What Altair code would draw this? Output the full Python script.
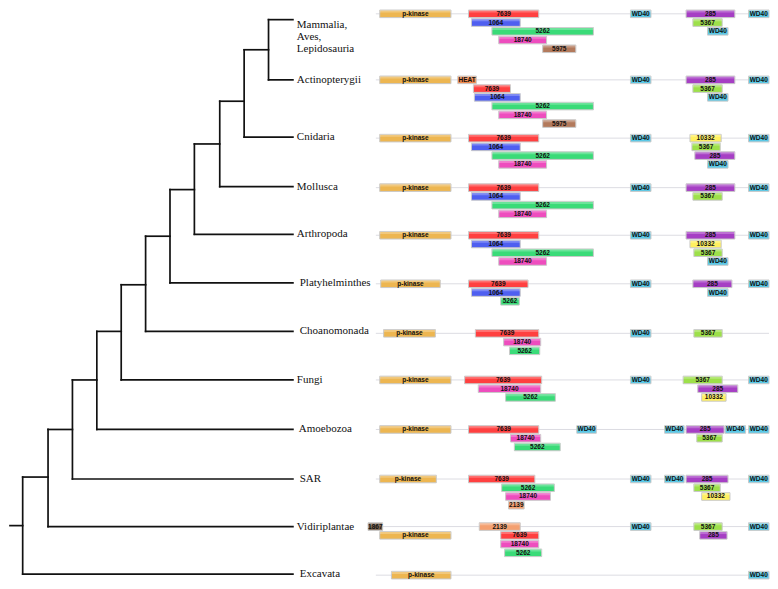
import altair as alt
import pandas as pd

# ---------------- Tree (cladogram) ----------------
# node name, horizontal position (depth), vertical position, parent
node_names = ["Mammalia", "Actinopterygii", "N1", "Cnidaria", "N2", "Mollusca", "N3",
              "Arthropoda", "N4", "Platyhelminthes", "N5", "Choanomonada", "N6",
              "Fungi", "N7", "Amoebozoa", "N8", "SAR", "N9", "Vidiriplantae", "N10",
              "Excavata", "N11", "root"]
node_x = [290, 290, 265, 290, 240, 290, 215, 290, 189, 290, 164, 290, 139,
          290, 114, 290, 89, 290, 64, 290, 39, 290, 13, 0]
node_y = [12, 74, 43, 133, 96, 184, 140, 233, 187, 283, 235, 333, 285,
          383, 333, 434, 383, 485, 434, 534, 483, 583, 533, 533]
node_parent = ["N1", "N1", "N2", "N2", "N3", "N3", "N4", "N4", "N5", "N5", "N6", "N6", "N7",
               "N7", "N8", "N8", "N9", "N9", "N10", "N10", "N11", "N11", "root", ""]

# ---------------- Taxa ----------------
taxa = ["Mammalia,\nAves,\nLepidosauria", "Actinopterygii", "Cnidaria", "Mollusca",
        "Arthropoda", "Platyhelminthes", "Choanomonada", "Fungi", "Amoebozoa",
        "SAR", "Vidiriplantae", "Excavata"]
taxon_label_x = [294, 294, 294, 294, 294, 297, 297, 294, 296, 297, 294, 297]
taxon_label_y = [17, 74, 133, 184, 233, 283, 333, 383, 434, 485, 534, 583]
row_y = [6, 74, 134, 185, 234, 284, 335, 383, 434, 485, 534, 584]
backbone_start = 375
backbone_end = 778

# ---------------- Domain architectures: (domain, start, end, track) ----------------
arch = [
    [("p-kinase", 379, 452, 0), ("7639", 470, 542, 0), ("1064", 473, 523, 1), ("5262", 494, 598, 2),
     ("18740", 501, 550, 3), ("5975", 546, 580, 4), ("WD40", 636, 657, 0), ("285", 693, 743, 0),
     ("5367", 700, 730, 1), ("WD40", 715, 736, 2), ("WD40", 757, 778, 0)],
    [("p-kinase", 379, 452, 0), ("HEAT", 459, 478, 0), ("7639", 475, 513, 1), ("1064", 476, 523, 2),
     ("5262", 494, 598, 3), ("18740", 501, 550, 4), ("5975", 546, 580, 5), ("WD40", 636, 657, 0),
     ("285", 693, 743, 0), ("5367", 700, 730, 1), ("WD40", 715, 736, 2), ("WD40", 757, 778, 0)],
    [("p-kinase", 379, 452, 0), ("7639", 470, 542, 0), ("1064", 473, 523, 1), ("5262", 494, 598, 2),
     ("18740", 501, 550, 3), ("WD40", 636, 657, 0), ("10332", 697, 729, 0), ("5367", 699, 728, 1),
     ("285", 702, 743, 2), ("WD40", 715, 736, 3), ("WD40", 757, 778, 0)],
    [("p-kinase", 379, 452, 0), ("7639", 470, 542, 0), ("1064", 473, 523, 1), ("5262", 494, 598, 2),
     ("18740", 501, 550, 3), ("WD40", 636, 657, 0), ("285", 693, 743, 0), ("5367", 700, 730, 1),
     ("WD40", 757, 778, 0)],
    [("p-kinase", 379, 452, 0), ("7639", 470, 542, 0), ("1064", 473, 523, 1), ("5262", 494, 598, 2),
     ("18740", 501, 550, 3), ("WD40", 636, 657, 0), ("285", 693, 743, 0), ("10332", 697, 729, 1),
     ("5367", 701, 730, 2), ("WD40", 715, 736, 3), ("WD40", 757, 778, 0)],
    [("p-kinase", 380, 441, 0), ("7639", 470, 531, 0), ("1064", 473, 523, 1), ("5262", 503, 522, 2),
     ("WD40", 636, 657, 0), ("285", 700, 740, 0), ("WD40", 715, 736, 1), ("WD40", 757, 778, 0)],
    [("p-kinase", 383, 436, 0), ("7639", 477, 542, 0), ("18740", 506, 544, 1), ("5262", 512, 543, 2),
     ("WD40", 636, 657, 0), ("5367", 701, 730, 0)],
    [("p-kinase", 379, 452, 0), ("7639", 466, 545, 0), ("18740", 480, 544, 1), ("5262", 508, 559, 2),
     ("WD40", 636, 657, 0), ("5367", 690, 730, 0), ("285", 705, 746, 1), ("10332", 709, 734, 2),
     ("WD40", 757, 778, 0)],
    [("p-kinase", 379, 452, 0), ("7639", 470, 542, 0), ("18740", 513, 544, 1), ("5262", 517, 564, 2),
     ("WD40", 581, 601, 0), ("WD40", 671, 691, 0), ("285", 693, 732, 0), ("WD40", 733, 754, 0),
     ("WD40", 757, 778, 0), ("5367", 704, 730, 1)],
    [("p-kinase", 379, 437, 0), ("7639", 470, 538, 0), ("5262", 504, 558, 1), ("18740", 508, 554, 2),
     ("2139", 511, 527, 3), ("WD40", 636, 657, 0), ("WD40", 671, 691, 0), ("285", 693, 736, 0),
     ("5367", 701, 728, 1), ("10332", 709, 738, 2), ("WD40", 757, 778, 0)],
    [("1867", 367, 382, 0), ("p-kinase", 379, 452, 1), ("2139", 481, 523, 0), ("7639", 503, 542, 1),
     ("18740", 503, 542, 2), ("5262", 507, 545, 3), ("WD40", 636, 657, 0), ("5367", 701, 730, 0),
     ("285", 707, 735, 1), ("WD40", 757, 778, 0)],
    [("p-kinase", 391, 452, 0), ("WD40", 757, 778, 0)],
]

domain_types = ["p-kinase", "HEAT", "7639", "1064", "5262", "18740", "5975", "WD40",
                "285", "5367", "10332", "2139", "1867"]
domain_colors = ["#EDB651", "#F28A4E", "#FF4040", "#4F5FF0", "#3ADB78", "#EE4DBE", "#B37A5C", "#5AC8E6",
                 "#A63FC4", "#9DE04A", "#FFF060", "#F4A070", "#7B6450"]

TRACK_STEP = 9
HALF_H = 3.9

# ---------------- Build tables ----------------
pos = {n: (x, y) for n, x, y in zip(node_names, node_x, node_y)}
edges = []
for n, x, y, p in zip(node_names, node_x, node_y, node_parent):
    if p:
        px = pos[p][0]
        edges.append({"x": px, "x2": x, "y": y, "y2": y})
for n in node_names:
    kids = [node_y[i] for i, p in enumerate(node_parent) if p == n]
    if len(kids) >= 2:
        edges.append({"x": pos[n][0], "x2": pos[n][0], "y": min(kids), "y2": max(kids)})
edges_df = pd.DataFrame(edges)

labels_df = pd.DataFrame({"taxon": taxa, "x": taxon_label_x, "y": taxon_label_y})

backbone_df = pd.DataFrame({"x": [backbone_start] * len(row_y), "x2": [backbone_end] * len(row_y),
                            "y": row_y, "y2": row_y})

rows = []
for ti, doms in enumerate(arch):
    for name, s, e, tr in doms:
        c = row_y[ti] + tr * TRACK_STEP
        rows.append({"domain": name, "x": s, "x2": e, "y": c - HALF_H, "y2": c + HALF_H,
                     "xm": (s + e) / 2, "yc": c, "yh": c - HALF_H + 2.6})
dom_df = pd.DataFrame(rows)

xs = alt.Scale(domain=[0, 778], nice=False, zero=False)
ys = alt.Scale(domain=[0, 589], nice=False, zero=False, reverse=True)


def X(f):
    return alt.X(f, type="quantitative", scale=xs, axis=None)


def Y(f):
    return alt.Y(f, type="quantitative", scale=ys, axis=None)


tree = alt.Chart(edges_df).mark_rule(color="#111111", strokeWidth=1.7, strokeCap="square").encode(
    x=X("x"), x2="x2", y=Y("y"), y2="y2")

taxon_text = alt.Chart(labels_df).mark_text(
    align="left", baseline="middle", font="Liberation Serif", fontSize=11, lineBreak="\n",
    lineHeight=12, color="#111111").encode(x=X("x"), y=Y("y"), text="taxon:N")

backbone = alt.Chart(backbone_df).mark_rule(color="#DCDCE2", strokeWidth=1).encode(
    x=X("x"), x2="x2", y=Y("y"), y2="y2")

boxes = alt.Chart(dom_df).mark_rect(stroke="#C9C9C9", strokeWidth=1).encode(
    x=X("x"), x2="x2", y=Y("y"), y2="y2",
    color=alt.Color("domain:N", scale=alt.Scale(domain=domain_types, range=domain_colors), legend=None))

gloss = alt.Chart(dom_df).mark_rect(color="white", opacity=0.25).encode(
    x=X("x"), x2="x2", y=Y("y"), y2="yh")

box_text = alt.Chart(dom_df).mark_text(
    align="center", baseline="middle", font="Liberation Sans", fontSize=6.5, fontWeight="bold",
    color="#111111").encode(x=X("xm"), y=Y("yc"), text="domain:N")

chart = alt.layer(tree, taxon_text, backbone, boxes, gloss, box_text).properties(
    width=762, height=572, padding=0,
    autosize=alt.AutoSizeParams(type="fit", contains="padding"),
    background="white",
).configure_view(stroke=None)

chart.save("out.html", embed_options={"renderer": "svg", "actions": False})
